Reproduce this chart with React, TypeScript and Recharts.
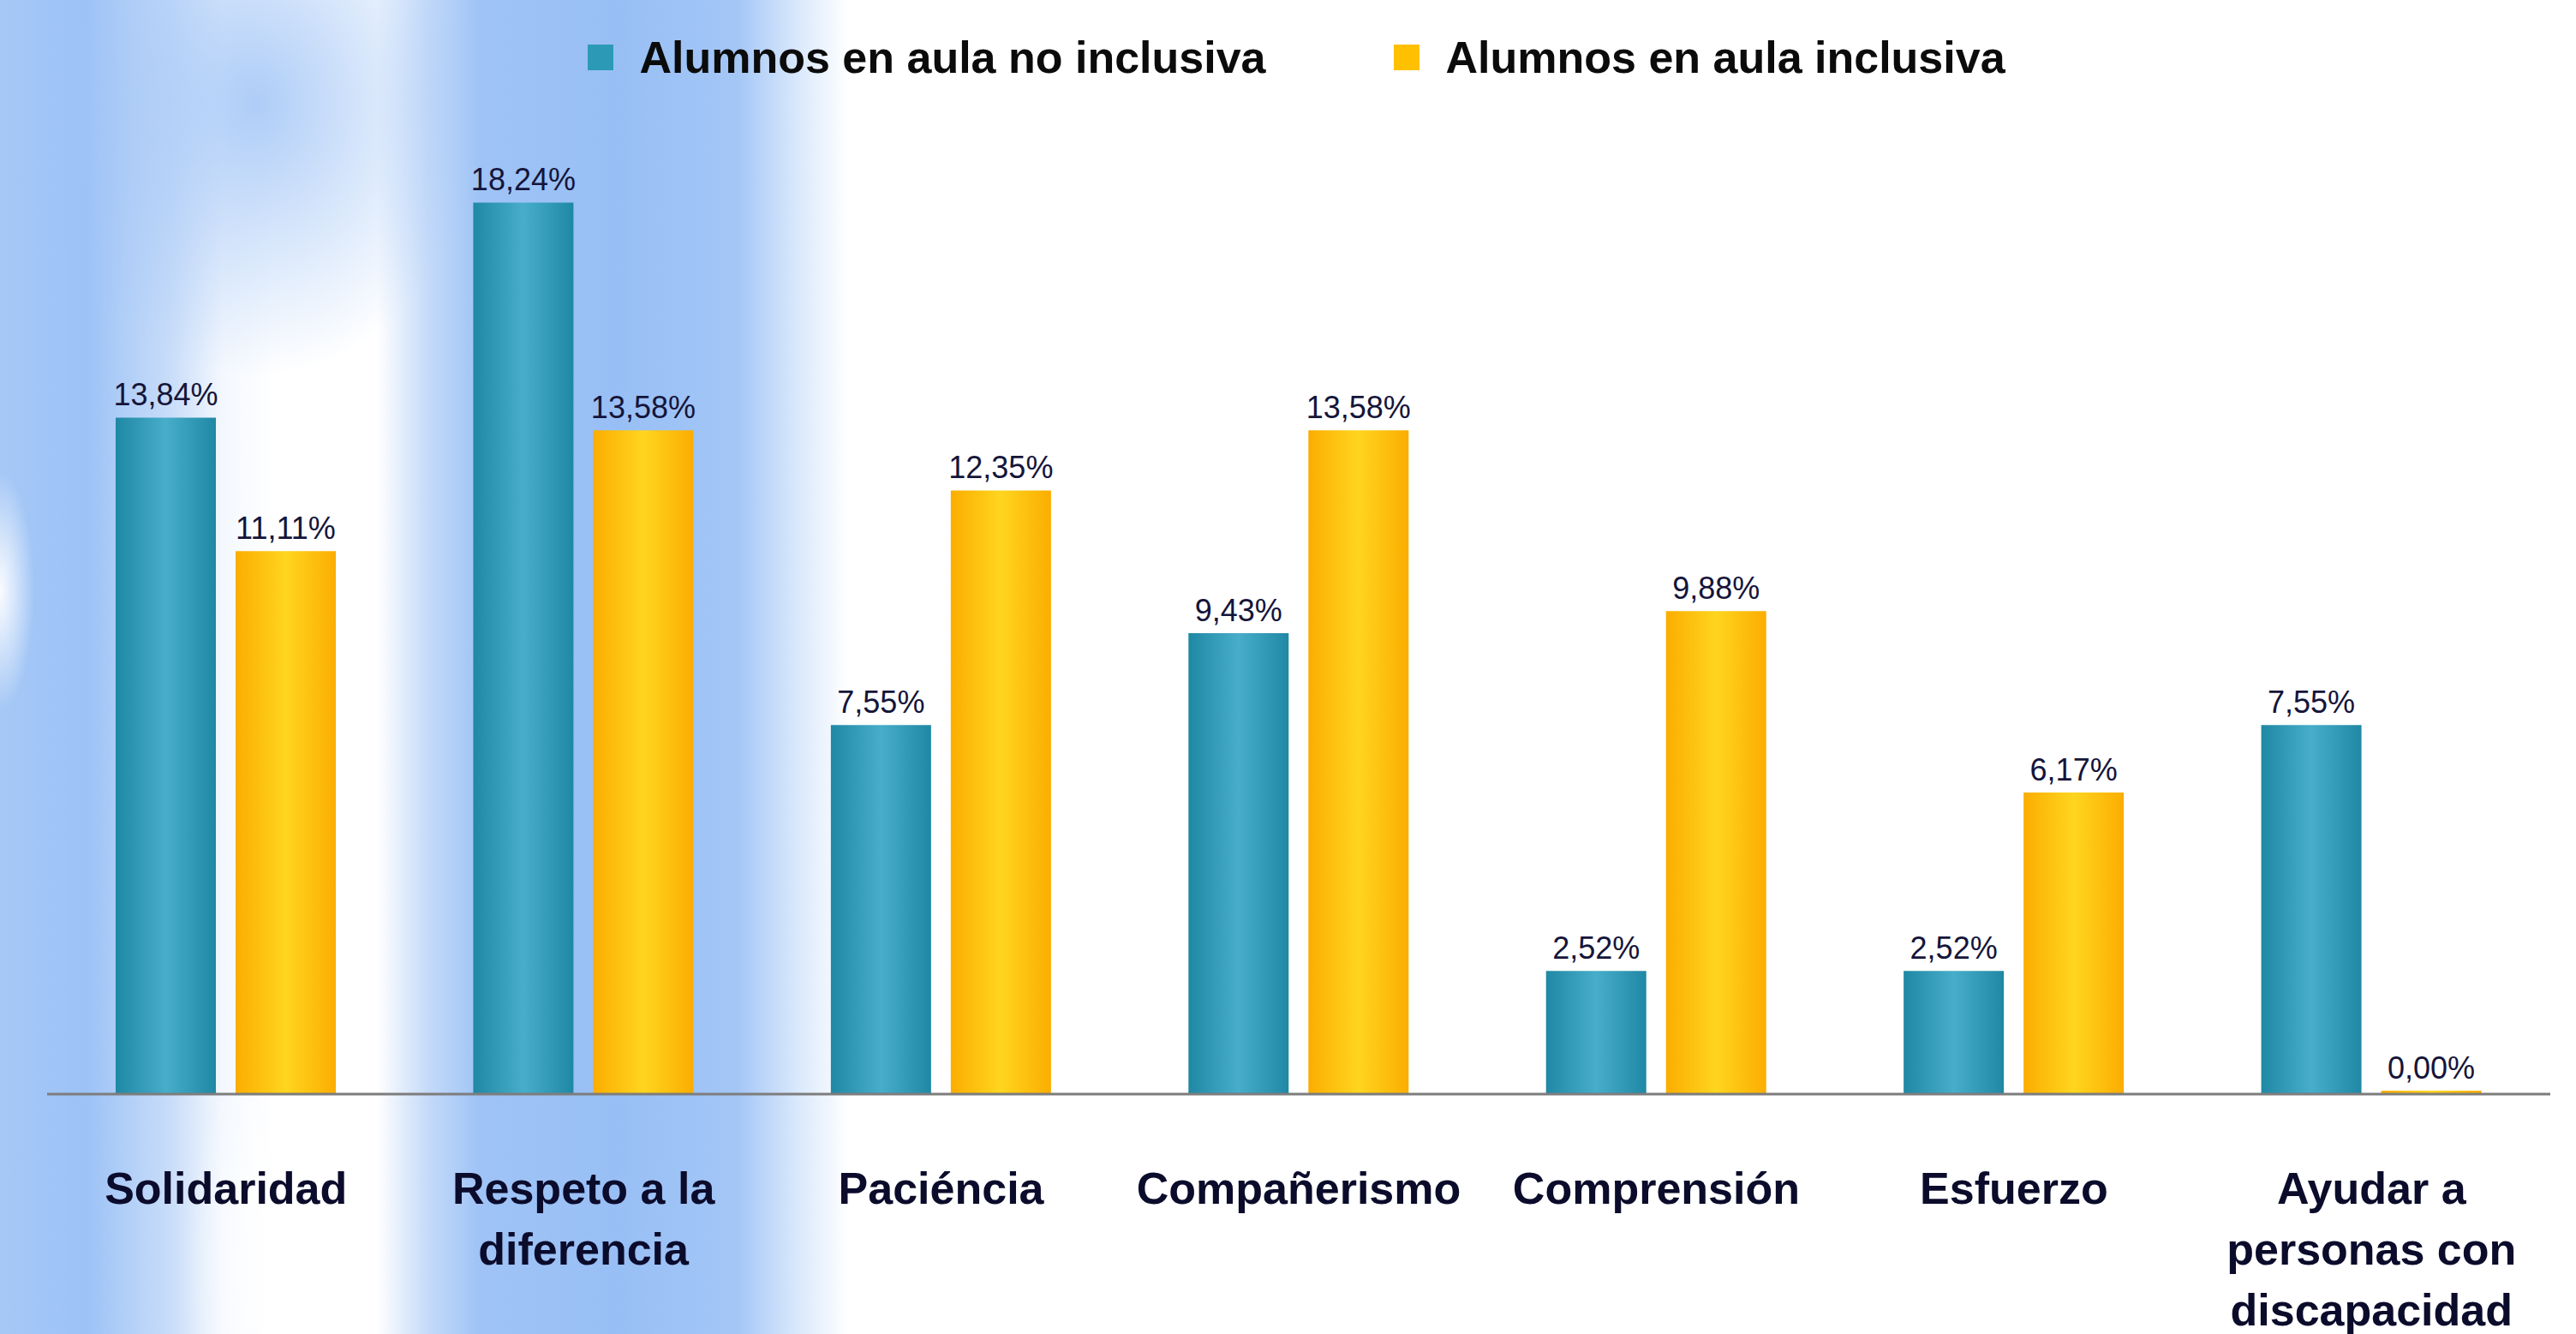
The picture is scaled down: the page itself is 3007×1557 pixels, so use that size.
import { BarChart, Bar, XAxis, YAxis, Legend, LabelList } from 'recharts';

const categorias = [
  'Solidaridad',
  'Respeto a la\ndiferencia',
  'Paciéncia',
  'Compañerismo',
  'Comprensión',
  'Esfuerzo',
  'Ayudar a\npersonas con\ndiscapacidad',
];
const noInclusiva = [13.84, 18.24, 7.55, 9.43, 2.52, 2.52, 7.55];
const inclusiva = [11.11, 13.58, 12.35, 13.58, 9.88, 6.17, 0.0];
const serieNombres = ['Alumnos en aula no inclusiva', 'Alumnos en aula inclusiva'];

const data = categorias.map((c, i) => ({
  categoria: c,
  noInclusiva: noInclusiva[i],
  inclusiva: inclusiva[i],
}));

const W = 3007;
const H = 1557;

const fmt = (v: any) => Number(v).toFixed(2).replace('.', ',') + '%';

function CategoryTick({ x, y, payload }: any) {
  const lines = String(payload.value).split('\n');
  return (
    <text x={x} y={y + 120} textAnchor="middle" fill="#0b0b2b" fontSize={52} fontWeight={700}
      fontFamily="'Liberation Sans', Arial, sans-serif">
      {lines.map((l, i) => (
        <tspan key={i} x={x} dy={i === 0 ? 0 : 71}>{l}</tspan>
      ))}
    </text>
  );
}

function LegendContent() {
  const colors = ['#2c9ab7', '#ffc000'];
  return (
    <div style={{ display: 'flex', justifyContent: 'center', gap: 150, height: 70, alignItems: 'center',
      fontFamily: "'Liberation Sans', Arial, sans-serif", fontWeight: 700, fontSize: 52, color: '#0b0b0b', paddingLeft: 20 }}>
      {serieNombres.map((n, i) => (
        <div key={n} style={{ display: 'flex', alignItems: 'center' }}>
          <span style={{ width: 30, height: 30, background: colors[i], marginRight: 30, display: 'inline-block' }} />
          {n}
        </div>
      ))}
    </div>
  );
}

const bg = [
  'radial-gradient(ellipse 40px 140px at 0px 690px, rgba(255,255,255,0.95), rgba(255,255,255,0))',
  'radial-gradient(ellipse 260px 320px at 300px 120px, rgba(160,196,246,0.85), rgba(160,196,246,0))',
  'radial-gradient(ellipse 120px 260px at 330px 1480px, rgba(255,255,255,0.9), rgba(255,255,255,0))',
  'linear-gradient(to right, #a6c8f6 0px, #9cc2f6 100px, #c9ddf9 200px, #f4f8fe 260px, #ffffff 320px, #ffffff 440px, #c4daf9 500px, #9fc3f6 560px, #98bff5 720px, #a3c6f6 860px, #d9e8fc 930px, #ffffff 990px)',
].join(', ');

export default function App() {
  return (
    <div style={{
      position: 'absolute', left: 0, top: 0, width: W, height: H, overflow: 'hidden', background: bg,
    }}>
      <BarChart width={W} height={H} data={data} barSize={117} barGap={23}
        margin={{ top: 66, right: 30, bottom: 30, left: 55 }}>
        <defs>
          <linearGradient id="gTeal" x1="0" y1="0" x2="1" y2="0">
            <stop offset="0%" stopColor="#1f88a4" />
            <stop offset="50%" stopColor="#47adca" />
            <stop offset="100%" stopColor="#1f88a4" />
          </linearGradient>
          <linearGradient id="gYellow" x1="0" y1="0" x2="1" y2="0">
            <stop offset="0%" stopColor="#fbad00" />
            <stop offset="50%" stopColor="#ffd51f" />
            <stop offset="100%" stopColor="#fbad00" />
          </linearGradient>
        </defs>
        <XAxis dataKey="categoria" interval={0} height={250} tickLine={false}
          axisLine={{ stroke: '#7d7d7d', strokeWidth: 3 }} tick={<CategoryTick />} />
        <YAxis hide domain={[0, 20]} />
        <Legend verticalAlign="top" align="center" height={70} content={<LegendContent />}
          wrapperStyle={{ top: 32, left: 0, width: W }} />
        <Bar dataKey="noInclusiva" name={serieNombres[0]} fill="url(#gTeal)" isAnimationActive={false}>
          <LabelList dataKey="noInclusiva" position="top" offset={14} formatter={fmt}
            style={{ fontSize: 36, fill: '#15153a', fontFamily: "'Liberation Sans', Arial, sans-serif" }} />
        </Bar>
        <Bar dataKey="inclusiva" name={serieNombres[1]} fill="url(#gYellow)" minPointSize={4} isAnimationActive={false}>
          <LabelList dataKey="inclusiva" position="top" offset={14} formatter={fmt}
            style={{ fontSize: 36, fill: '#15153a', fontFamily: "'Liberation Sans', Arial, sans-serif" }} />
        </Bar>
      </BarChart>
    </div>
  );
}
